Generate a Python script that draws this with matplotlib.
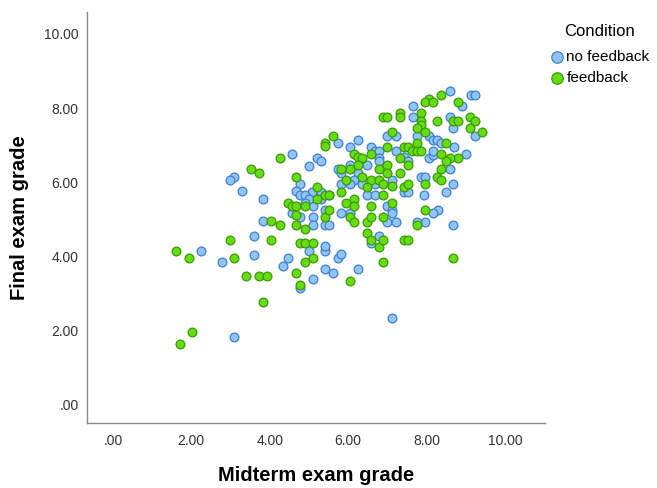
import numpy as np
import matplotlib
matplotlib.use("Agg")
import matplotlib.pyplot as plt

plt.rcParams['font.family'] = ['Liberation Sans', 'DejaVu Sans']

# no feedback group (midterm, final)
nofb_mid = [4.57, 5.21, 5.31, 4.99, 3.09, 2.98, 3.30, 3.83, 4.78, 4.68, 4.78, 4.99, 5.10,
            4.57, 4.78, 5.10, 5.10, 5.42, 5.42, 3.83, 3.61, 4.99, 5.42, 5.42, 2.24, 2.78,
            3.61, 4.46, 4.35, 5.42, 5.10, 3.09, 4.78, 7.11, 6.26, 5.62, 5.73, 5.83, 6.79,
            6.58, 8.60, 9.13, 9.23, 8.90, 7.65, 7.65, 8.60, 8.68, 9.23, 7.21, 7.75, 8.06,
            8.17, 8.27, 8.38, 8.70, 9.01, 8.06, 8.17, 8.59, 7.85, 7.96, 8.68, 8.49, 7.93,
            8.28, 8.17, 7.96, 7.75, 8.68, 5.73, 6.26, 6.05, 7.00, 6.57, 6.68, 6.79, 6.79,
            6.79, 7.21, 8.17, 7.42, 7.53, 6.05, 6.47, 5.73, 6.26, 6.15, 6.36, 6.68, 7.11,
            7.42, 7.53, 6.47, 6.68, 5.52, 5.83, 5.09, 5.31, 5.31, 4.90, 5.00, 5.83, 6.05,
            7.00, 7.11, 7.11, 7.00, 7.21, 4.90, 5.52, 6.05, 5.83]
nofb_fin = [6.77, 6.65, 6.56, 6.45, 6.15, 6.05, 5.76, 5.55, 5.96, 5.76, 5.66, 5.66, 5.35,
            5.17, 5.06, 5.06, 4.85, 4.85, 5.26, 4.95, 4.55, 4.15, 4.15, 4.27, 4.15, 3.85,
            4.05, 3.95, 3.75, 3.66, 3.39, 1.84, 3.14, 2.35, 3.66, 3.55, 3.95, 4.06, 4.55,
            4.36, 8.46, 8.36, 8.36, 8.06, 8.06, 7.76, 7.76, 7.46, 7.25, 7.25, 7.25, 7.25,
            7.14, 7.14, 7.05, 6.96, 6.77, 6.65, 6.74, 6.35, 6.15, 6.15, 5.96, 5.75, 5.65,
            5.26, 5.17, 4.94, 4.94, 4.85, 7.05, 7.14, 6.96, 7.25, 6.96, 6.85, 6.85, 6.65,
            6.56, 6.85, 6.85, 6.69, 6.56, 6.47, 6.47, 6.35, 6.24, 6.06, 5.96, 5.96, 6.06,
            5.75, 5.75, 5.66, 5.66, 5.66, 5.96, 5.75, 5.75, 5.55, 5.66, 5.55, 5.17, 5.17,
            5.35, 5.26, 5.17, 4.94, 4.94, 5.45, 4.85, 5.96, 6.24]

# feedback group
fb_mid = [4.25, 3.51, 3.72, 4.68, 5.21, 5.21, 5.42, 4.46, 4.57, 4.68, 4.89, 5.42, 4.68,
          4.68, 4.89, 4.04, 4.25, 2.98, 4.04, 4.78, 4.89, 5.10, 1.61, 1.93, 3.09, 4.89,
          5.10, 4.68, 3.40, 3.72, 3.94, 5.41, 5.41, 3.83, 2.03, 1.71, 4.78, 8.68, 6.05,
          6.90, 6.47, 6.58, 6.79, 6.90, 7.42, 7.53, 8.38, 8.06, 7.96, 8.17, 8.79, 7.32,
          7.32, 6.90, 7.00, 7.85, 7.85, 8.27, 8.68, 8.79, 9.11, 9.23, 9.11, 9.42, 7.85,
          7.75, 7.11, 7.96, 8.49, 8.80, 8.60, 8.49, 8.38, 8.38, 8.27, 8.38, 7.96, 7.96,
          7.75, 5.62, 7.00, 6.15, 6.26, 6.36, 6.57, 7.42, 7.53, 7.64, 7.75, 7.75, 7.85,
          7.32, 7.53, 7.32, 7.00, 7.00, 6.79, 6.26, 6.05, 5.83, 5.94, 6.36, 6.57, 6.79,
          6.90, 7.11, 6.47, 7.42, 7.53, 6.90, 5.52, 5.83, 5.94, 6.15, 6.15, 5.52, 6.05,
          6.15, 6.57, 7.11, 6.90, 6.47, 6.57]
fb_fin = [6.65, 6.35, 6.24, 6.15, 5.86, 5.55, 5.66, 5.45, 5.35, 5.35, 5.35, 5.06, 5.12,
          4.85, 4.74, 4.95, 4.85, 4.45, 4.45, 4.36, 4.36, 4.36, 4.15, 3.95, 3.95, 3.85,
          3.95, 3.55, 3.46, 3.46, 3.46, 7.06, 6.98, 2.76, 1.95, 1.64, 3.23, 3.95, 3.35,
          3.85, 4.63, 4.45, 4.25, 4.45, 4.45, 4.45, 8.36, 8.25, 8.16, 8.16, 8.16, 7.86,
          7.76, 7.76, 7.76, 7.86, 7.64, 7.65, 7.65, 7.65, 7.76, 7.65, 7.46, 7.35, 7.55,
          7.46, 7.35, 7.35, 7.05, 6.65, 6.65, 6.56, 6.77, 6.35, 6.15, 6.06, 5.96, 5.26,
          4.85, 7.25, 6.96, 6.77, 6.69, 6.65, 6.77, 6.96, 6.96, 6.85, 7.05, 6.85, 6.85,
          6.65, 6.47, 6.24, 6.47, 6.24, 6.35, 6.47, 6.35, 6.35, 6.06, 6.15, 6.06, 6.06,
          5.96, 5.89, 5.88, 5.87, 5.96, 5.66, 5.66, 5.75, 5.45, 5.55, 5.35, 5.26, 5.06,
          4.94, 5.35, 5.45, 5.06, 4.94, 5.06]

xticks = [0, 2, 4, 6, 8, 10]
yticks = [0, 2, 4, 6, 8, 10]
groups = ["no feedback", "feedback"]


def fmt(t):
    s = '%.2f' % t
    return s[1:] if t == 0 else s


fig = plt.figure(figsize=(6.57, 4.88), dpi=100)
ax = fig.add_axes([87/657, 1 - 423/488, (545-87)/657, (423-12)/488])

ax.scatter(nofb_mid, nofb_fin, s=40, c='#90c4f4', edgecolors='#3f7fd0', linewidths=0.9,
           label=groups[0], zorder=3)
ax.scatter(fb_mid, fb_fin, s=40, c='#66dc14', edgecolors='#3b9a06', linewidths=0.9,
           label=groups[1], zorder=3)

ax.set_xlim(-0.66, 11.02)
ax.set_ylim(-0.49, 10.59)
ax.set_xticks(xticks)
ax.set_yticks(yticks)
ax.set_xticklabels([fmt(t) for t in xticks])
ax.set_yticklabels([fmt(t) for t in yticks])
ax.tick_params(length=0, labelsize=10, colors='#333333')
ax.tick_params(axis='y', pad=6)
ax.tick_params(axis='x', pad=8)

for s in ['top', 'right']:
    ax.spines[s].set_visible(False)
for s in ['left', 'bottom']:
    ax.spines[s].set_color('#888888')
    ax.spines[s].set_linewidth(1.0)

ax.set_xlabel('Midterm exam grade', fontsize=14.5, fontweight='bold', labelpad=13)
ax.set_ylabel('Final exam grade', fontsize=14.5, fontweight='bold', labelpad=11)

leg = ax.legend(title='Condition', loc='upper left', bbox_to_anchor=(542/657, 1 - 16/488),
                bbox_transform=fig.transFigure, frameon=False, fontsize=11,
                title_fontsize=12, handletextpad=0.1, handlelength=1.0,
                labelspacing=0.45, markerscale=1.3, borderpad=0.0)
leg._legend_box.align = 'center'
leg._legend_box.sep = 8

fig.savefig('out.png', dpi=100)
